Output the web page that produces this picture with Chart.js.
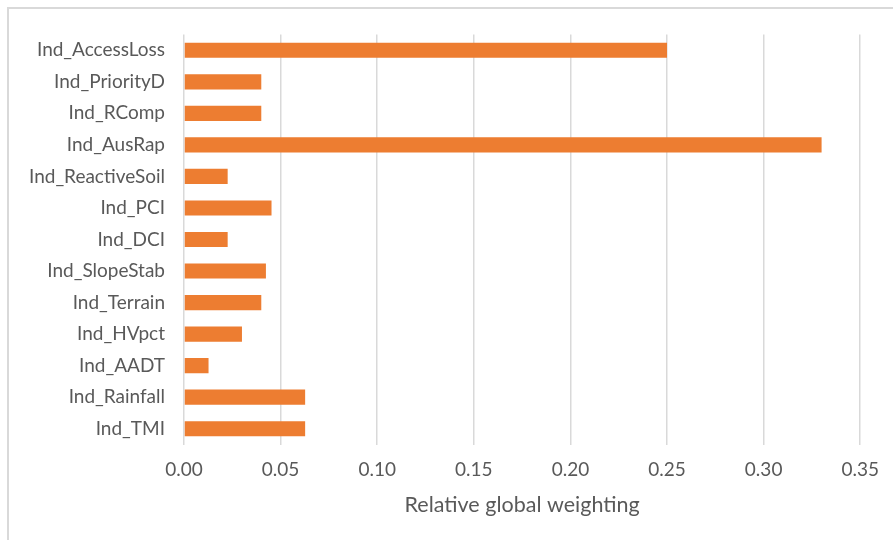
<!DOCTYPE html>
<html>
<head>
<meta charset="utf-8">
<script src="https://cdn.jsdelivr.net/npm/chart.js@4.4.1/dist/chart.umd.min.js"></script>
<style>
  html, body { margin: 0; padding: 0; background: #fff; }
  #wrap { position: relative; width: 893px; height: 540px; overflow: hidden; }
  #frame { position: absolute; left: 7px; top: 7px; width: 900px; height: 600px;
           border-top: 2px solid #d9d9d9; border-left: 2px solid #d9d9d9; }
  #chart { position: absolute; left: 0; top: 0; }
</style>
</head>
<body>
<div id="wrap">
  <div id="frame"></div>
  <canvas id="chart" width="893" height="540"></canvas>
</div>
<script>
// categories, top to bottom as shown
const categories = [
  'Ind_AccessLoss', 'Ind_PriorityD', 'Ind_RComp', 'Ind_AusRap',
  'Ind_ReactiveSoil', 'Ind_PCI', 'Ind_DCI', 'Ind_SlopeStab',
  'Ind_Terrain', 'Ind_HVpct', 'Ind_AADT', 'Ind_Rainfall', 'Ind_TMI'
];
// relative global weighting
const weights = [
  0.250, 0.040, 0.040, 0.330,
  0.0226, 0.0453, 0.0226, 0.0424,
  0.040, 0.030, 0.0127, 0.0627, 0.0627
];
const xTicks = [0, 0.05, 0.10, 0.15, 0.20, 0.25, 0.30, 0.35];
const axisTitle = 'Relative global weighting';

const textColor = '#595959';
const gridColor = '#d9d9d9';
const fontFamily = 'Lato, "Open Sans", sans-serif';

new Chart(document.getElementById('chart'), {
  type: 'bar',
  data: {
    labels: categories,
    datasets: [{
      data: weights,
      backgroundColor: '#ed7d31',
      barPercentage: 0.48,
      categoryPercentage: 1
    }]
  },
  options: {
    indexAxis: 'y',
    responsive: false,
    animation: false,
    layout: { padding: { top: 34.5, right: 31.5, left: 0, bottom: 0 } },
    plugins: { legend: { display: false }, tooltip: { enabled: false } },
    scales: {
      x: {
        min: 0,
        max: 0.35,
        afterBuildTicks: s => { s.ticks = xTicks.map(v => ({ value: v })); },
        afterFit: s => { s.height = 95.5; },
        border: { display: false },
        grid: { color: gridColor, lineWidth: 1.5, drawTicks: false },
        ticks: {
          color: textColor,
          padding: 14,
          font: { family: fontFamily, size: 19 },
          callback: v => Number(v).toFixed(2)
        },
        title: {
          display: true,
          text: axisTitle,
          color: textColor,
          font: { family: fontFamily, size: 21.5 },
          padding: { top: 0, bottom: 22 }
        }
      },
      y: {
        afterFit: s => { s.width = 184; },
        border: { display: false },
        grid: { display: false, drawTicks: false },
        ticks: {
          color: textColor,
          padding: 19,
          font: { family: fontFamily, size: 19 }
        }
      }
    }
  }
});
</script>
</body>
</html>
